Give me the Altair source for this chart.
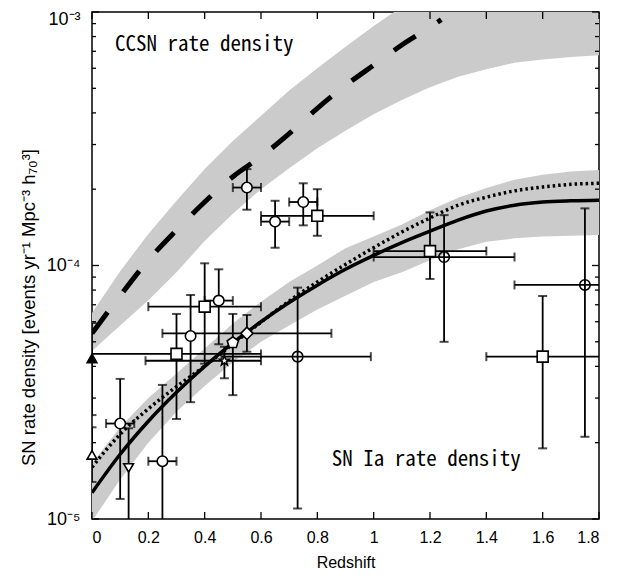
import altair as alt
import pandas as pd
import numpy as np

# ---------------- data ----------------
grid_x = [0.0, 0.1, 0.2, 0.3, 0.4, 0.5, 0.6, 0.7, 0.8, 0.9, 1.0,
          1.1, 1.2, 1.3, 1.4, 1.5, 1.6, 1.7, 1.8]

ia_fit = [1.27e-5, 1.80e-5, 2.43e-5, 3.16e-5, 4.00e-5, 4.95e-5, 6.00e-5, 7.14e-5,
          8.36e-5, 9.66e-5, 1.096e-4, 1.23e-4, 1.365e-4, 1.51e-4, 1.64e-4, 1.73e-4,
          1.78e-4, 1.80e-4, 1.81e-4]
ia_fit2 = [1.60e-5, 2.16e-5, 2.72e-5, 3.33e-5, 4.01e-5, 4.90e-5, 5.98e-5, 7.24e-5,
           8.61e-5, 1.01e-4, 1.175e-4, 1.355e-4, 1.54e-4, 1.73e-4, 1.86e-4, 1.97e-4,
           2.04e-4, 2.09e-4, 2.11e-4]
ia_lo = [0.98e-5, 1.43e-5, 2.00e-5, 2.65e-5, 3.35e-5, 4.15e-5, 5.00e-5, 5.80e-5,
         6.70e-5, 7.60e-5, 8.60e-5, 9.40e-5, 1.05e-4, 1.16e-4, 1.24e-4, 1.28e-4,
         1.30e-4, 1.31e-4, 1.32e-4]
ia_hi = [1.66e-5, 2.30e-5, 3.00e-5, 3.75e-5, 4.70e-5, 5.90e-5, 7.20e-5, 8.60e-5,
         1.00e-4, 1.17e-4, 1.30e-4, 1.45e-4, 1.65e-4, 1.85e-4, 2.02e-4, 2.18e-4,
         2.28e-4, 2.35e-4, 2.38e-4]

cc_x = [0.0, 0.1, 0.2, 0.3, 0.4, 0.5, 0.6, 0.7, 0.8, 0.9, 1.0, 1.1, 1.2, 1.24]
cc_fit = [5.4e-5, 7.6e-5, 1.05e-4, 1.38e-4, 1.78e-4, 2.24e-4, 2.69e-4, 3.31e-4,
          4.17e-4, 5.13e-4, 6.17e-4, 7.41e-4, 8.71e-4, 9.33e-4]

band_cc_x = grid_x
cc_lo = [4.6e-5, 5.8e-5, 7.3e-5, 9.4e-5, 1.25e-4, 1.60e-4, 2.00e-4, 2.42e-4, 2.90e-4,
         3.40e-4, 3.95e-4, 4.50e-4, 5.05e-4, 5.55e-4, 5.95e-4, 6.30e-4, 6.50e-4,
         6.65e-4, 6.75e-4]
cc_hi = [6.5e-5, 9.5e-5, 1.33e-4, 1.80e-4, 2.40e-4, 3.10e-4, 3.90e-4, 4.90e-4, 6.00e-4,
         7.30e-4, 8.80e-4, 1.05e-3, 1.25e-3, 1.45e-3, 1.65e-3, 1.85e-3, 2.05e-3,
         2.25e-3, 2.45e-3]

# measured points
pt_kind = ["circle", "circle", "circle", "square", "square", "circle", "circle",
           "diamond", "pentagon", "square", "star", "ocross", "tri_filled",
           "tri_open", "circle", "tri_down", "circle", "square", "ocross",
           "ocross", "square"]
pt_x = [0.55, 0.65, 0.75, 0.80, 0.40, 0.45, 0.35, 0.55, 0.50, 0.30, 0.47, 0.73,
        0.0, 0.0, 0.10, 0.13, 0.25, 1.20, 1.25, 1.75, 1.60]
pt_y = [2.03e-4, 1.49e-4, 1.78e-4, 1.57e-4, 6.88e-5, 7.27e-5, 5.27e-5, 5.40e-5,
        4.96e-5, 4.48e-5, 4.21e-5, 4.37e-5, 4.30e-5, 1.79e-5, 2.38e-5, 1.59e-5,
        1.69e-5, 1.14e-4, 1.08e-4, 8.38e-5, 4.37e-5]
pt_xlo = [0.50, 0.60, 0.70, 0.60, 0.20, 0.40, None, 0.25, None, 0.00, 0.19, 0.46,
          None, None, 0.05, None, 0.20, 1.00, 1.00, 1.50, 1.40]
pt_xhi = [0.60, 0.70, 0.80, 1.00, 0.60, 0.50, None, 0.85, None, 0.60, 0.60, 0.99,
          None, None, 0.15, None, 0.30, 1.40, 1.50, 2.00, 2.00]
pt_ylo = [1.66e-4, 1.175e-4, 1.44e-4, 1.31e-4, 4.10e-5, 4.89e-5, 2.89e-5, 4.57e-5,
          3.08e-5, 2.48e-5, 3.59e-5, 1.10e-5, 2.57e-5, 1.40e-5, 1.20e-5, 8.0e-6,
          8.0e-6, 8.85e-5, 5.00e-5, 2.11e-5, 1.90e-5]
pt_yhi = [2.40e-4, 1.80e-4, 2.11e-4, 2.00e-4, 1.02e-4, 9.66e-5, 7.65e-5, 6.38e-5,
          6.44e-5, 6.44e-5, 4.78e-5, 8.18e-5, 5.93e-5, 2.30e-5, 3.57e-5, 2.28e-5,
          3.38e-5, 1.62e-4, 1.58e-4, 1.68e-4, 7.58e-5]

x_ticks = [0, 0.2, 0.4, 0.6, 0.8, 1.0, 1.2, 1.4, 1.6, 1.8]
y_major = [1e-5, 1e-4, 1e-3]
y_minor = [m * d for d in (1e-5, 1e-4) for m in range(2, 10)]

labels_txt = ["CCSN rate density", "SN Ia rate density"]
labels_x = [0.082, 0.851]
labels_y = [7.43e-4, 1.71e-5]

# ---------------- build ----------------
W, H = 507, 507
star_pts = []
for i in range(10):
    r = 1.0 if i % 2 == 0 else 0.42
    a = -np.pi / 2 + i * np.pi / 5
    star_pts.append(f"{r*np.cos(a):.3f},{r*np.sin(a):.3f}")
STAR = "M" + "L".join(star_pts) + "Z"
PENT = "M0,-1L0.951,-0.309L0.588,0.809L-0.588,0.809L-0.951,-0.309Z"

shape_map = {"circle": "circle", "ocross": "circle", "square": "square",
             "diamond": "diamond", "pentagon": PENT, "star": STAR,
             "tri_filled": "triangle-up", "tri_open": "triangle-up",
             "tri_down": "triangle-down"}
fill_map = {"circle": "white", "ocross": "transparent", "square": "white",
            "diamond": "white", "pentagon": "white", "star": "white",
            "tri_filled": "black", "tri_open": "white", "tri_down": "white"}
size_map = {"circle": 110, "ocross": 110, "square": 120, "diamond": 150,
            "pentagon": 140, "star": 100, "tri_filled": 95, "tri_open": 95,
            "tri_down": 95}

pts = pd.DataFrame({"kind": pt_kind, "x": pt_x, "y": pt_y, "xlo": pt_xlo,
                    "xhi": pt_xhi, "ylo": pt_ylo, "yhi": pt_yhi})
pts["shape"] = pts["kind"].map(shape_map)
pts["fill"] = pts["kind"].map(fill_map)
pts["size"] = pts["kind"].map(size_map)
hx = pts.dropna(subset=["xlo"])

ia = pd.DataFrame({"x": grid_x, "fit": ia_fit, "fit2": ia_fit2, "lo": ia_lo, "hi": ia_hi})
ccb = pd.DataFrame({"x": band_cc_x, "lo": cc_lo, "hi": cc_hi})
ccf = pd.DataFrame({"x": cc_x, "fit": cc_fit})

FONT = "Liberation Sans"
xs = alt.Scale(domain=[0, 1.8], nice=False, zero=False)
ys = alt.Scale(type="log", domain=[1e-5, 1e-3], nice=False)
X = lambda f: alt.X(f, type="quantitative", scale=xs, title="Redshift",
                    axis=alt.Axis(values=x_ticks, format="~g", ticks=False,
                                  labelPadding=10, grid=False, domain=False,
                                  labelFont=FONT, titleFont=FONT, labelFontSize=16,
                                  titleFontSize=16, titleFontWeight="normal",
                                  labelColor="black", titleColor="black",
                                  titlePadding=9))
Y = lambda f: alt.Y(f, type="quantitative", scale=ys,
                    title="SN rate density [events yr⁻¹ Mpc⁻³ h₇₀³]",
                    axis=alt.Axis(values=y_major, ticks=False, grid=False, domain=False,
                                  labelPadding=12, labelFont=FONT, titleFont=FONT,
                                  labelFontSize=18, titleFontSize=18.5,
                                  titleFontWeight="normal", labelColor="black",
                                  titleColor="black",
                                  labelOffset={"condition": {"test": "datum.value > 5e-4", "value": 7}, "value": 0},
                                  labelExpr="datum.value < 2e-5 ? '10⁻⁵' : datum.value < 2e-4 ? '10⁻⁴' : '10⁻³'",
                                  titlePadding=8, titleY=295))

band_cc = alt.Chart(ccb).mark_area(color="#cbcbcb", clip=True).encode(
    x=X("x"), y=Y("lo"), y2="hi")
band_ia = alt.Chart(ia).mark_area(color="#cbcbcb", clip=True).encode(
    x=X("x"), y=Y("lo"), y2="hi")
line_cc = alt.Chart(ccf).mark_line(color="black", strokeWidth=5, strokeDash=[26, 26],
                                   interpolate="monotone", clip=True).encode(x=X("x"), y=Y("fit"))
line_ia = alt.Chart(ia).mark_line(color="black", strokeWidth=3.5,
                                  interpolate="monotone", clip=True).encode(x=X("x"), y=Y("fit"))
line_ia2 = alt.Chart(ia).mark_line(color="black", strokeWidth=3.5, strokeDash=[2.5, 3],
                                   interpolate="monotone", clip=True).encode(x=X("x"), y=Y("fit2"))

vbar = alt.Chart(pts).mark_rule(color="black", strokeWidth=1.8, clip=True).encode(
    x=X("x"), y=Y("ylo"), y2="yhi")
hbar = alt.Chart(hx).mark_rule(color="black", strokeWidth=1.8, clip=True).encode(
    x=X("xlo"), x2="xhi", y=Y("y"))
cap_lo = alt.Chart(pts).mark_tick(color="black", orient="horizontal", size=9, thickness=2,
                                  clip=True).encode(x=X("x"), y=Y("ylo"))
cap_hi = alt.Chart(pts).mark_tick(color="black", orient="horizontal", size=9, thickness=2,
                                  clip=True).encode(x=X("x"), y=Y("yhi"))
cap_l = alt.Chart(hx).mark_tick(color="black", orient="vertical", size=9, thickness=2,
                                clip=True).encode(x=X("xlo"), y=Y("y"))
cap_r = alt.Chart(hx).mark_tick(color="black", orient="vertical", size=9, thickness=2,
                                clip=True).encode(x=X("xhi"), y=Y("y"))
marks = alt.Chart(pts).mark_point(filled=True, stroke="black", strokeWidth=1.6,
                                  opacity=1).encode(
    x=X("x"), y=Y("y"),
    shape=alt.Shape("shape:N", scale=None),
    fill=alt.Fill("fill:N", scale=None),
    size=alt.Size("size:Q", scale=None))

txt = alt.Chart(pd.DataFrame({"t": labels_txt, "x": labels_x, "y": labels_y})).mark_text(
    align="left", baseline="middle", font="Noto Sans Mono CJK JP", fontSize=21,
    color="black").encode(x=X("x"), y=Y("y"), text="t:N")

# inward ticks (axis decoration)
xt = pd.DataFrame({"v": x_ticks})
ymj = pd.DataFrame({"v": y_major})
ymn = pd.DataFrame({"v": y_minor})
tb = alt.Chart(xt).mark_rule(color="black", strokeWidth=1.3).encode(
    x=X("v"), y=alt.value(H), y2=alt.value(H - 7))
tt = alt.Chart(xt).mark_rule(color="black", strokeWidth=1.3).encode(
    x=X("v"), y=alt.value(0), y2=alt.value(7))
tl_mj = alt.Chart(ymj).mark_rule(color="black", strokeWidth=1.3).encode(
    y=Y("v"), x=alt.value(0), x2=alt.value(7))
tl_mn = alt.Chart(ymn).mark_rule(color="black", strokeWidth=1.3).encode(
    y=Y("v"), x=alt.value(0), x2=alt.value(4))
tr_mj = alt.Chart(ymj).mark_rule(color="black", strokeWidth=1.3).encode(
    y=Y("v"), x=alt.value(W), x2=alt.value(W - 7))
tr_mn = alt.Chart(ymn).mark_rule(color="black", strokeWidth=1.3).encode(
    y=Y("v"), x=alt.value(W), x2=alt.value(W - 4))

chart = alt.layer(band_cc, band_ia, line_cc, line_ia, line_ia2, vbar, hbar,
                  cap_lo, cap_hi, cap_l, cap_r, marks, txt,
                  tb, tt, tl_mj, tl_mn, tr_mj, tr_mn).properties(
    width=W, height=H, autosize="none",
    padding={"left": 84, "top": 4, "right": 20, "bottom": 58},
).configure_view(stroke="black", strokeWidth=1.5)

chart.save("out.html", embed_options={"renderer": "svg", "actions": False})
